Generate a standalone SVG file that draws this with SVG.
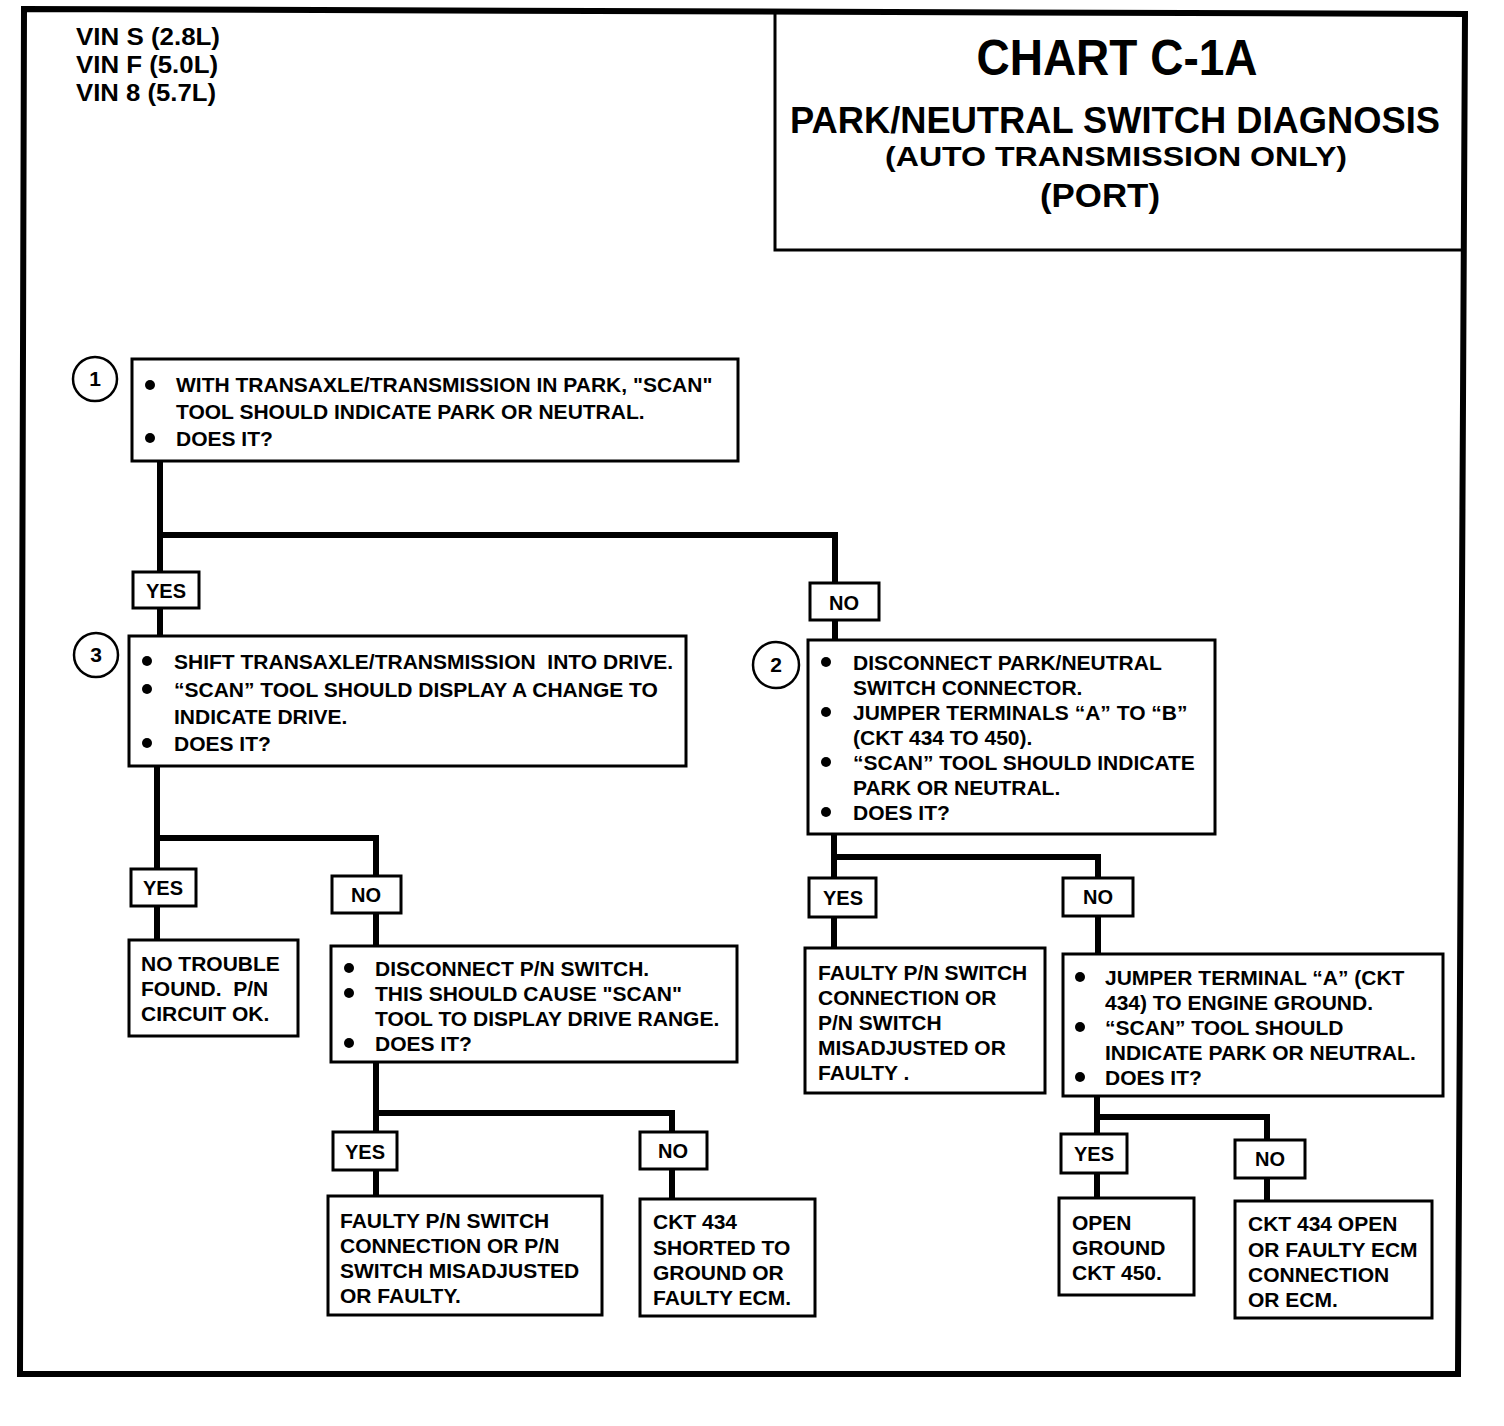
<svg xmlns="http://www.w3.org/2000/svg" width="1504" height="1426" viewBox="0 0 1504 1426">
<style>
.bg{fill:#fff}
.frame{fill:none;stroke:#000;stroke-width:6;stroke-linejoin:miter}
.tb{fill:none;stroke:#000;stroke-width:3}
.box{fill:#fff;stroke:#000;stroke-width:3}
.conn{fill:none;stroke:#000;stroke-width:6;stroke-linejoin:miter}
.t{font-family:"Liberation Sans",Arial,sans-serif;font-weight:700;font-size:21px;fill:#000}
.l{font-size:20px}
.c{text-anchor:middle}
.vin{font-family:"Liberation Sans",Arial,sans-serif;font-weight:700;font-size:24px;fill:#000}
.ti{font-family:"Liberation Sans",Arial,sans-serif;font-weight:700;fill:#000;text-anchor:middle}
.b{fill:#000}
.num{fill:#fff;stroke:#000;stroke-width:2.5}
</style>
<rect class="bg" x="0" y="0" width="1504" height="1426"/>
<g id="frame">
<polygon class="frame" points="24,9 1465,14 1458,1374 20,1374"/>
</g>
<g id="vin">
<text class="vin" x="76" y="45" textLength="144" lengthAdjust="spacingAndGlyphs">VIN S (2.8L)</text>
<text class="vin" x="76" y="73" textLength="142" lengthAdjust="spacingAndGlyphs">VIN F (5.0L)</text>
<text class="vin" x="76" y="101" textLength="140" lengthAdjust="spacingAndGlyphs">VIN 8 (5.7L)</text>
</g>
<g id="title">
<path class="tb" d="M775,11 V250 H1462"/>
<text class="ti" x="1117" y="75" font-size="50" textLength="281" lengthAdjust="spacingAndGlyphs">CHART C-1A</text>
<text class="ti" x="1115" y="133" font-size="36" textLength="650" lengthAdjust="spacingAndGlyphs">PARK/NEUTRAL SWITCH DIAGNOSIS</text>
<text class="ti" x="1116" y="166" font-size="27" textLength="462" lengthAdjust="spacingAndGlyphs">(AUTO TRANSMISSION ONLY)</text>
<text class="ti" x="1100" y="207" font-size="34" textLength="120" lengthAdjust="spacingAndGlyphs">(PORT)</text>
</g>
<g id="connectors">
<path class="conn" d="M160,461 V636 M160,535 H835 V640"/>
<path class="conn" d="M157,766 V940 M157,838 H376 V946"/>
<path class="conn" d="M376,1062 V1196 M376,1113 H672 V1199"/>
<path class="conn" d="M834,834 V948 M834,857 H1098 V954"/>
<path class="conn" d="M1097,1096 V1198 M1097,1117 H1267 V1201"/>
</g>
<g id="step1">
<circle class="num" cx="95" cy="379" r="22"/>
<text class="t c" x="95" y="386">1</text>
<rect class="box" x="132" y="359" width="606" height="102"/>
<circle class="b" cx="150" cy="385" r="5"/>
<text class="t" x="176" y="392">WITH TRANSAXLE/TRANSMISSION IN PARK, "SCAN"</text>
<text class="t" x="176" y="419">TOOL SHOULD INDICATE PARK OR NEUTRAL.</text>
<circle class="b" cx="150" cy="438" r="5"/>
<text class="t" x="176" y="446">DOES IT?</text>
</g>
<g id="yes1">
<rect class="box" x="133" y="572" width="66" height="36"/>
<text class="t l c" x="166" y="598">YES</text>
</g>
<g id="no1">
<rect class="box" x="810" y="583" width="69" height="37"/>
<text class="t l c" x="844" y="610">NO</text>
</g>
<g id="step3">
<circle class="num" cx="96" cy="655" r="22"/>
<text class="t c" x="96" y="662">3</text>
<rect class="box" x="129" y="636" width="557" height="130"/>
<circle class="b" cx="147" cy="661" r="5"/>
<text class="t" x="174" y="669">SHIFT TRANSAXLE/TRANSMISSION &#160;INTO DRIVE.</text>
<circle class="b" cx="147" cy="689" r="5"/>
<text class="t" x="174" y="697">“SCAN” TOOL SHOULD DISPLAY A CHANGE TO</text>
<text class="t" x="174" y="724">INDICATE DRIVE.</text>
<circle class="b" cx="147" cy="743" r="5"/>
<text class="t" x="174" y="751">DOES IT?</text>
</g>
<g id="yes2">
<rect class="box" x="131" y="869" width="65" height="37"/>
<text class="t l c" x="163" y="895">YES</text>
</g>
<g id="no2">
<rect class="box" x="332" y="876" width="69" height="37"/>
<text class="t l c" x="366" y="902">NO</text>
</g>
<g id="ok">
<rect class="box" x="129" y="940" width="169" height="96"/>
<text class="t" x="141" y="971">NO TROUBLE</text>
<text class="t" x="141" y="996">FOUND. &#160;P/N</text>
<text class="t" x="141" y="1021">CIRCUIT OK.</text>
</g>
<g id="disconnect">
<rect class="box" x="331" y="946" width="406" height="116"/>
<circle class="b" cx="349" cy="968" r="5"/>
<text class="t" x="375" y="976">DISCONNECT P/N SWITCH.</text>
<circle class="b" cx="349" cy="993" r="5"/>
<text class="t" x="375" y="1001">THIS SHOULD CAUSE "SCAN"</text>
<text class="t" x="375" y="1026">TOOL TO DISPLAY DRIVE RANGE.</text>
<circle class="b" cx="349" cy="1043" r="5"/>
<text class="t" x="375" y="1051">DOES IT?</text>
</g>
<g id="yes3">
<rect class="box" x="333" y="1132" width="64" height="38"/>
<text class="t l c" x="365" y="1159">YES</text>
</g>
<g id="no3">
<rect class="box" x="640" y="1132" width="67" height="37"/>
<text class="t l c" x="673" y="1158">NO</text>
</g>
<g id="faulty1">
<rect class="box" x="328" y="1196" width="274" height="119"/>
<text class="t" x="340" y="1228">FAULTY P/N SWITCH</text>
<text class="t" x="340" y="1253">CONNECTION OR P/N</text>
<text class="t" x="340" y="1278">SWITCH MISADJUSTED</text>
<text class="t" x="340" y="1303">OR FAULTY.</text>
</g>
<g id="short434">
<rect class="box" x="640" y="1199" width="175" height="117"/>
<text class="t" x="653" y="1229">CKT 434</text>
<text class="t" x="653" y="1255">SHORTED TO</text>
<text class="t" x="653" y="1280">GROUND OR</text>
<text class="t" x="653" y="1305">FAULTY ECM.</text>
</g>
<g id="step2">
<circle class="num" cx="776" cy="665" r="23"/>
<text class="t c" x="776" y="672">2</text>
<rect class="box" x="808" y="640" width="407" height="194"/>
<circle class="b" cx="826" cy="662" r="5"/>
<text class="t" x="853" y="670">DISCONNECT PARK/NEUTRAL</text>
<text class="t" x="853" y="695">SWITCH CONNECTOR.</text>
<circle class="b" cx="826" cy="712" r="5"/>
<text class="t" x="853" y="720">JUMPER TERMINALS “A” TO “B”</text>
<text class="t" x="853" y="745">(CKT 434 TO 450).</text>
<circle class="b" cx="826" cy="762" r="5"/>
<text class="t" x="853" y="770">“SCAN” TOOL SHOULD INDICATE</text>
<text class="t" x="853" y="795">PARK OR NEUTRAL.</text>
<circle class="b" cx="826" cy="812" r="5"/>
<text class="t" x="853" y="820">DOES IT?</text>
</g>
<g id="yes4">
<rect class="box" x="809" y="878" width="67" height="39"/>
<text class="t l c" x="843" y="905">YES</text>
</g>
<g id="no4">
<rect class="box" x="1063" y="878" width="70" height="38"/>
<text class="t l c" x="1098" y="904">NO</text>
</g>
<g id="faulty2">
<rect class="box" x="805" y="948" width="240" height="145"/>
<text class="t" x="818" y="980">FAULTY P/N SWITCH</text>
<text class="t" x="818" y="1005">CONNECTION OR</text>
<text class="t" x="818" y="1030">P/N SWITCH</text>
<text class="t" x="818" y="1055">MISADJUSTED OR</text>
<text class="t" x="818" y="1080">FAULTY .</text>
</g>
<g id="jumper">
<rect class="box" x="1063" y="954" width="380" height="142"/>
<circle class="b" cx="1080" cy="977" r="5"/>
<text class="t" x="1105" y="985">JUMPER TERMINAL “A” (CKT</text>
<text class="t" x="1105" y="1010">434) TO ENGINE GROUND.</text>
<circle class="b" cx="1080" cy="1027" r="5"/>
<text class="t" x="1105" y="1035">“SCAN” TOOL SHOULD</text>
<text class="t" x="1105" y="1060">INDICATE PARK OR NEUTRAL.</text>
<circle class="b" cx="1080" cy="1077" r="5"/>
<text class="t" x="1105" y="1085">DOES IT?</text>
</g>
<g id="yes5">
<rect class="box" x="1061" y="1134" width="66" height="39"/>
<text class="t l c" x="1094" y="1161">YES</text>
</g>
<g id="no5">
<rect class="box" x="1235" y="1140" width="70" height="38"/>
<text class="t l c" x="1270" y="1166">NO</text>
</g>
<g id="openground">
<rect class="box" x="1059" y="1198" width="135" height="97"/>
<text class="t" x="1072" y="1230">OPEN</text>
<text class="t" x="1072" y="1255">GROUND</text>
<text class="t" x="1072" y="1280">CKT 450.</text>
</g>
<g id="open434">
<rect class="box" x="1235" y="1201" width="197" height="117"/>
<text class="t" x="1248" y="1231">CKT 434 OPEN</text>
<text class="t" x="1248" y="1257">OR FAULTY ECM</text>
<text class="t" x="1248" y="1282">CONNECTION</text>
<text class="t" x="1248" y="1307">OR ECM.</text>
</g>
</svg>
